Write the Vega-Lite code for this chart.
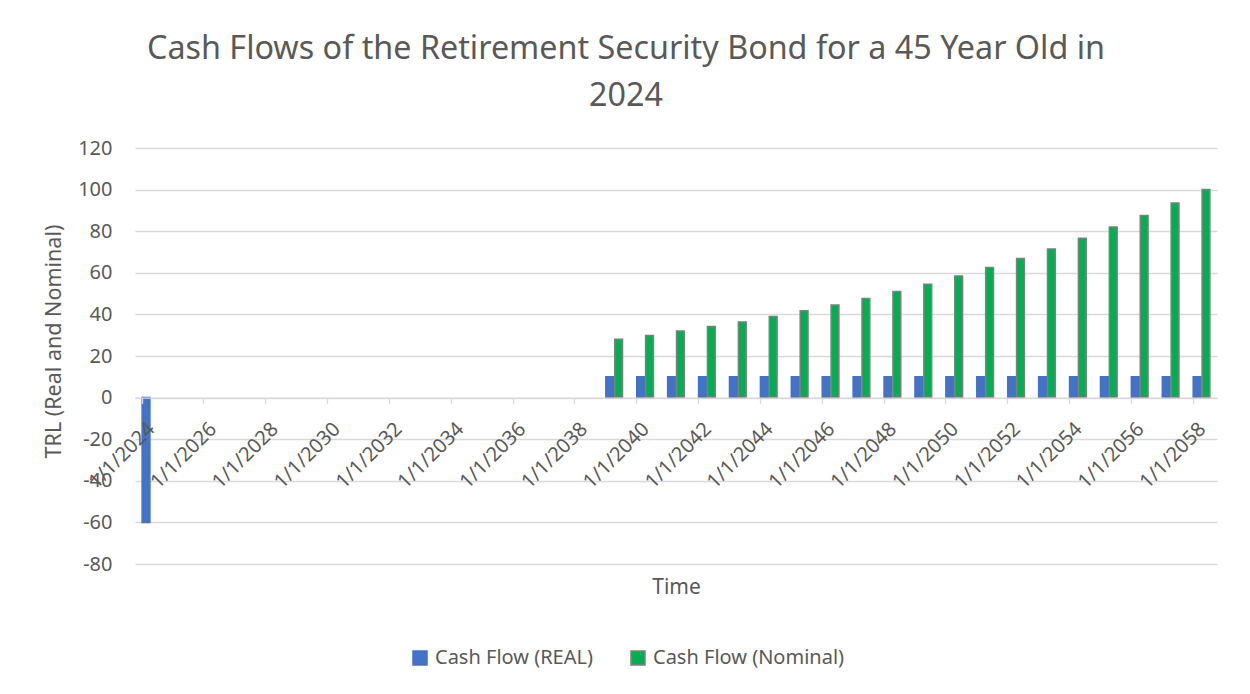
{
  "$schema": "https://vega.github.io/schema/vega-lite/v6.json",
  "autosize": {"type": "none"},
  "padding": {"left": 135, "top": 148, "right": 33, "bottom": 130},
  "width": 1082,
  "height": 416,
  "background": "white",
  "title": {
    "text": ["Cash Flows of the Retirement Security Bond for a 45 Year Old in", "2024"],
    "fontSize": 32.3,
    "fontWeight": "normal",
    "color": "#595959",
    "lineHeight": 47,
    "anchor": "middle",
    "dx": -50,
    "offset": 26
  },
  "data": {
    "values": [
      {"date": "1/1/2024", "series": "Cash Flow (REAL)", "value": -60},
      {"date": "1/1/2039", "series": "Cash Flow (REAL)", "value": 10},
      {"date": "1/1/2039", "series": "Cash Flow (Nominal)", "value": 28},
      {"date": "1/1/2040", "series": "Cash Flow (REAL)", "value": 10},
      {"date": "1/1/2040", "series": "Cash Flow (Nominal)", "value": 29.9},
      {"date": "1/1/2041", "series": "Cash Flow (REAL)", "value": 10},
      {"date": "1/1/2041", "series": "Cash Flow (Nominal)", "value": 32},
      {"date": "1/1/2042", "series": "Cash Flow (REAL)", "value": 10},
      {"date": "1/1/2042", "series": "Cash Flow (Nominal)", "value": 34.2},
      {"date": "1/1/2043", "series": "Cash Flow (REAL)", "value": 10},
      {"date": "1/1/2043", "series": "Cash Flow (Nominal)", "value": 36.4},
      {"date": "1/1/2044", "series": "Cash Flow (REAL)", "value": 10},
      {"date": "1/1/2044", "series": "Cash Flow (Nominal)", "value": 39},
      {"date": "1/1/2045", "series": "Cash Flow (REAL)", "value": 10},
      {"date": "1/1/2045", "series": "Cash Flow (Nominal)", "value": 41.7},
      {"date": "1/1/2046", "series": "Cash Flow (REAL)", "value": 10},
      {"date": "1/1/2046", "series": "Cash Flow (Nominal)", "value": 44.5},
      {"date": "1/1/2047", "series": "Cash Flow (REAL)", "value": 10},
      {"date": "1/1/2047", "series": "Cash Flow (Nominal)", "value": 47.7},
      {"date": "1/1/2048", "series": "Cash Flow (REAL)", "value": 10},
      {"date": "1/1/2048", "series": "Cash Flow (Nominal)", "value": 51},
      {"date": "1/1/2049", "series": "Cash Flow (REAL)", "value": 10},
      {"date": "1/1/2049", "series": "Cash Flow (Nominal)", "value": 54.5},
      {"date": "1/1/2050", "series": "Cash Flow (REAL)", "value": 10},
      {"date": "1/1/2050", "series": "Cash Flow (Nominal)", "value": 58.5},
      {"date": "1/1/2051", "series": "Cash Flow (REAL)", "value": 10},
      {"date": "1/1/2051", "series": "Cash Flow (Nominal)", "value": 62.5},
      {"date": "1/1/2052", "series": "Cash Flow (REAL)", "value": 10},
      {"date": "1/1/2052", "series": "Cash Flow (Nominal)", "value": 66.9},
      {"date": "1/1/2053", "series": "Cash Flow (REAL)", "value": 10},
      {"date": "1/1/2053", "series": "Cash Flow (Nominal)", "value": 71.5},
      {"date": "1/1/2054", "series": "Cash Flow (REAL)", "value": 10},
      {"date": "1/1/2054", "series": "Cash Flow (Nominal)", "value": 76.6},
      {"date": "1/1/2055", "series": "Cash Flow (REAL)", "value": 10},
      {"date": "1/1/2055", "series": "Cash Flow (Nominal)", "value": 82},
      {"date": "1/1/2056", "series": "Cash Flow (REAL)", "value": 10},
      {"date": "1/1/2056", "series": "Cash Flow (Nominal)", "value": 87.5},
      {"date": "1/1/2057", "series": "Cash Flow (REAL)", "value": 10},
      {"date": "1/1/2057", "series": "Cash Flow (Nominal)", "value": 93.6},
      {"date": "1/1/2058", "series": "Cash Flow (REAL)", "value": 10},
      {"date": "1/1/2058", "series": "Cash Flow (Nominal)", "value": 100}
    ]
  },
  "mark": {"type": "bar", "strokeWidth": 1.5},
  "encoding": {
    "x": {
      "field": "date",
      "type": "nominal",
      "scale": {
        "domain": ["1/1/2024","1/1/2025","1/1/2026","1/1/2027","1/1/2028","1/1/2029","1/1/2030","1/1/2031","1/1/2032","1/1/2033","1/1/2034","1/1/2035","1/1/2036","1/1/2037","1/1/2038","1/1/2039","1/1/2040","1/1/2041","1/1/2042","1/1/2043","1/1/2044","1/1/2045","1/1/2046","1/1/2047","1/1/2048","1/1/2049","1/1/2050","1/1/2051","1/1/2052","1/1/2053","1/1/2054","1/1/2055","1/1/2056","1/1/2057","1/1/2058"],
        "paddingInner": 0.46,
        "paddingOuter": 0.23
      },
      "axis": {
        "title": "Time",
        "zindex": 1,
        "values": ["1/1/2024","1/1/2026","1/1/2028","1/1/2030","1/1/2032","1/1/2034","1/1/2036","1/1/2038","1/1/2040","1/1/2042","1/1/2044","1/1/2046","1/1/2048","1/1/2050","1/1/2052","1/1/2054","1/1/2056","1/1/2058"],
        "bandPosition": 0,
        "offset": -166.4,
        "labelAngle": -45,
        "labelAlign": "right",
        "labelBaseline": "top",
        "labelOffset": -6,
        "labelPadding": 15,
        "labelFontSize": 20,
        "labelColor": "#595959",
        "labelOverlap": false,
        "labelBound": false,
        "domainColor": "#D9D9D9",
        "domainWidth": 1.3,
        "tickColor": "#D9D9D9",
        "tickWidth": 1.3,
        "tickSize": 6,
        "grid": false,
        "titleFontSize": 21,
        "titleFontWeight": "normal",
        "titleColor": "#595959",
        "titleBaseline": "middle",
        "titleY": 190
      }
    },
    "xOffset": {
      "field": "series",
      "type": "nominal",
      "scale": {"domain": ["Cash Flow (REAL)", "Cash Flow (Nominal)"], "paddingInner": 0.12}
    },
    "y": {
      "field": "value",
      "type": "quantitative",
      "scale": {"domain": [-80, 120], "nice": false},
      "axis": {
        "title": "TRL (Real and Nominal)",
        "values": [-80, -60, -40, -20, 0, 20, 40, 60, 80, 100, 120],
        "labelExpr": "'' + datum.value",
        "domain": false,
        "ticks": false,
        "grid": true,
        "gridColor": "#D9D9D9",
        "gridWidth": 1.3,
        "labelFontSize": 20,
        "labelColor": "#595959",
        "labelPadding": 23,
        "titleFontSize": 21.5,
        "titleFontWeight": "normal",
        "titleColor": "#595959",
        "titleAngle": -90,
        "titleAlign": "center",
        "titleBaseline": "middle",
        "titleX": -81,
        "titleY": 193
      }
    },
    "fill": {
      "field": "series",
      "type": "nominal",
      "scale": {"domain": ["Cash Flow (REAL)", "Cash Flow (Nominal)"], "range": ["#4472C4", "#00B050"]},
      "legend": {
        "title": null,
        "orient": "none",
        "legendX": 275,
        "legendY": 500,
        "direction": "horizontal",
        "padding": 0,
        "symbolType": "square",
        "symbolSize": 196,
        "symbolStrokeWidth": 1.5,
        "labelFontSize": 20,
        "labelColor": "#595959",
        "labelOffset": 5,
        "labelLimit": 0,
        "columnPadding": 35
      }
    },
    "stroke": {
      "field": "series",
      "type": "nominal",
      "scale": {"domain": ["Cash Flow (REAL)", "Cash Flow (Nominal)"], "range": ["#4472C4", "#7F7F7F"]},
      "legend": {
        "title": null,
        "orient": "none",
        "legendX": 275,
        "legendY": 500,
        "direction": "horizontal",
        "padding": 0,
        "symbolType": "square",
        "symbolSize": 196,
        "symbolStrokeWidth": 1.5,
        "labelFontSize": 20,
        "labelColor": "#595959",
        "labelOffset": 5,
        "labelLimit": 0,
        "columnPadding": 35
      }
    }
  },
  "config": {
    "font": "Noto Sans",
    "view": {"stroke": null}
  }
}
